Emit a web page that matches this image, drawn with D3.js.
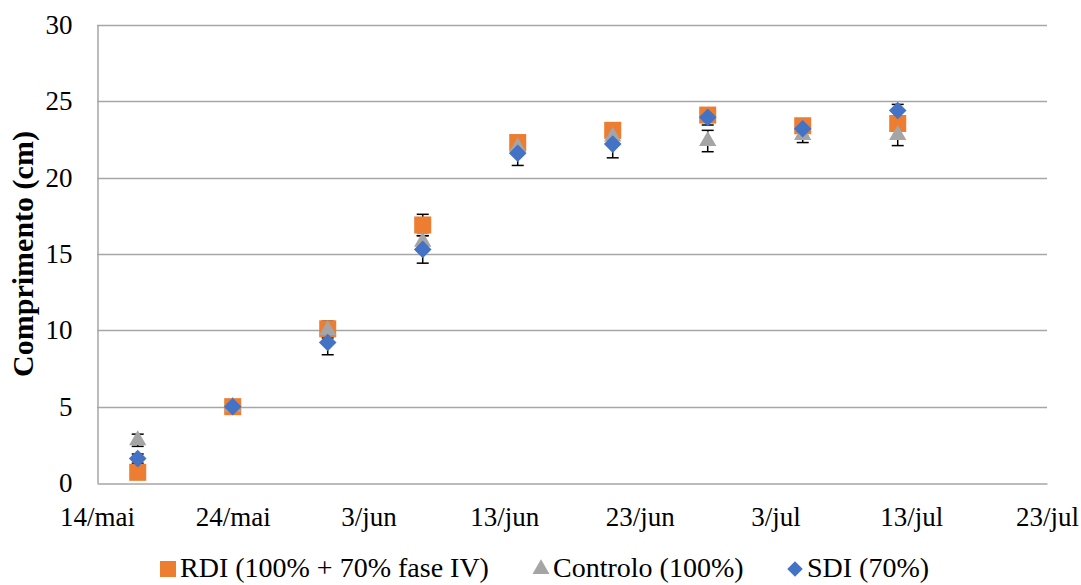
<!DOCTYPE html>
<html>
<head>
<meta charset="utf-8">
<script src="https://cdn.jsdelivr.net/npm/d3@7"></script>
<style>
  body { margin: 0; background: #fff; }
  svg text { font-family: "Times New Roman", "Liberation Serif", "DejaVu Serif", serif !important; fill: #000; }
</style>
</head>
<body>
<svg id="chart"></svg>
<script>
var width = 1081,
    height = 585;

// data
var dates = ["2019-05-17", "2019-05-24", "2019-05-31", "2019-06-07", "2019-06-14",
             "2019-06-21", "2019-06-28", "2019-07-05", "2019-07-12"];
var rdi = [0.7, 5.0, 10.1, 16.9, 22.3, 23.1, 24.1, 23.4, 23.55];
var rdiErr = [0.2, 0.2, 0.5, 0.7, 0.4, 0.4, 0.3, 0.3, 0.4];
var controlo = [2.8, 5.0, 10.0, 15.8, 22.0, 22.7, 22.4, 22.8, 22.8];
var controloErr = [0.4, 0.2, 0.5, 0.6, 0.5, 0.5, 0.7, 0.5, 0.7];
var sdi = [1.6, 5.0, 9.2, 15.3, 21.6, 22.2, 23.95, 23.2, 24.4];
var sdiErr = [0.3, 0.2, 0.8, 0.9, 0.8, 0.9, 0.5, 0.5, 0.4];

var xTicks = ["2019-05-14", "2019-05-24", "2019-06-03", "2019-06-13",
              "2019-06-23", "2019-07-03", "2019-07-13", "2019-07-23"];
var yTicks = [0, 5, 10, 15, 20, 25, 30];
var meses = ["jan", "fev", "mar", "abr", "mai", "jun", "jul", "ago", "set", "out", "nov", "dez"];

var parse = d3.utcParse("%Y-%m-%d");
var FONT = "'Times New Roman', 'Liberation Serif', serif";

var series = [
  { name: "RDI (100% + 70% fase IV)", values: rdi, err: rdiErr, color: "#ED7D31", symbol: d3.symbolSquare, size: 290, rot: 0 },
  { name: "Controlo (100%)", values: controlo, err: controloErr, color: "#A5A5A5", symbol: d3.symbolTriangle, size: 130, rot: 0 },
  { name: "SDI (70%)", values: sdi, err: sdiErr, color: "#4472C4", symbol: d3.symbolSquare, size: 155, rot: 45 }
];

var margin = { left: 97, right: 34, top: 25, bottom: 102 };

var x = d3.scaleUtc()
  .domain([parse(xTicks[0]), parse(xTicks[xTicks.length - 1])])
  .range([margin.left, width - margin.right]);

var y = d3.scaleLinear()
  .domain([0, 30])
  .range([height - margin.bottom, margin.top]);

var svg = d3.select("#chart")
  .attr("width", width)
  .attr("height", height);

// gridlines
svg.append("g")
  .selectAll("line")
  .data(yTicks.filter(function(d){ return d > 0; }))
  .enter().append("line")
  .attr("x1", x.range()[0])
  .attr("x2", x.range()[1])
  .attr("y1", function(d){ return Math.round(y(d)) + 0.5; })
  .attr("y2", function(d){ return Math.round(y(d)) + 0.5; })
  .attr("stroke", "#a6a6a6")
  .attr("stroke-width", 1.5);

// y axis
var yAxis = svg.append("g")
  .attr("transform", "translate(" + (margin.left + 0.5) + ",0)")
  .call(d3.axisLeft(y).tickValues(yTicks).tickSize(0).tickPadding(25));
yAxis.attr("font-family", FONT);
yAxis.select(".domain").attr("stroke", "#a6a6a6").attr("stroke-width", 1.5);
yAxis.selectAll("text").style("font-size", "27px").style("font-family", FONT);

// x axis
var xAxis = svg.append("g")
  .attr("transform", "translate(0," + (Math.round(y(0)) + 0.5) + ")")
  .call(d3.axisBottom(x)
    .tickValues(xTicks.map(parse))
    .tickSize(0)
    .tickPadding(23)
    .tickFormat(function(d){ return d.getUTCDate() + "/" + meses[d.getUTCMonth()]; }));
xAxis.attr("font-family", FONT);
xAxis.select(".domain").attr("stroke", "#a6a6a6").attr("stroke-width", 1.5);
xAxis.selectAll("text").style("font-size", "27px").style("font-family", FONT);

// y title
svg.append("text")
  .attr("transform", "translate(33," + ((y(0) + y(30)) / 2) + ") rotate(-90)")
  .attr("text-anchor", "middle")
  .style("font-family", FONT)
  .style("font-size", "30px")
  .style("font-weight", "bold")
  .text("Comprimento (cm)");

var pointsOf = function(s){
  return dates.map(function(d, i){ return { date: parse(d), v: s.values[i], e: s.err[i] }; });
};

// error bars first (all series), then markers
var cap = 6;
series.forEach(function(s){
  var eb = svg.append("g").selectAll("g.err")
    .data(pointsOf(s))
    .enter().append("g")
    .attr("class", "err")
    .attr("stroke", "#000")
    .attr("stroke-width", 1.5);
  eb.append("line")
    .attr("x1", function(d){ return x(d.date); })
    .attr("x2", function(d){ return x(d.date); })
    .attr("y1", function(d){ return y(d.v - d.e); })
    .attr("y2", function(d){ return y(d.v + d.e); });
  eb.append("line")
    .attr("x1", function(d){ return x(d.date) - cap; })
    .attr("x2", function(d){ return x(d.date) + cap; })
    .attr("y1", function(d){ return y(d.v - d.e); })
    .attr("y2", function(d){ return y(d.v - d.e); });
  eb.append("line")
    .attr("x1", function(d){ return x(d.date) - cap; })
    .attr("x2", function(d){ return x(d.date) + cap; })
    .attr("y1", function(d){ return y(d.v + d.e); })
    .attr("y2", function(d){ return y(d.v + d.e); });
});

series.forEach(function(s){
  svg.append("g").selectAll("path.pt")
    .data(pointsOf(s))
    .enter().append("path")
    .attr("class", "pt")
    .attr("d", d3.symbol().type(s.symbol).size(s.size))
    .attr("transform", function(d){ return "translate(" + x(d.date) + "," + y(d.v) + ") rotate(" + s.rot + ")"; })
    .attr("fill", s.color);
});

// legend
var legendX = [168, 541, 795];
var legend = svg.append("g");
series.forEach(function(s, i){
  var lg = legend.append("g").attr("transform", "translate(" + legendX[i] + ",569)");
  lg.append("path")
    .attr("d", d3.symbol().type(s.symbol).size(i === 0 ? 256 : (i === 1 ? 125 : 120)))
    .attr("transform", "rotate(" + s.rot + ")")
    .attr("fill", s.color);
  lg.append("text")
    .attr("x", 12)
    .attr("y", 8)
    .style("font-family", FONT)
    .style("font-size", "28px")
    .text(s.name);
});
</script>
</body>
</html>
